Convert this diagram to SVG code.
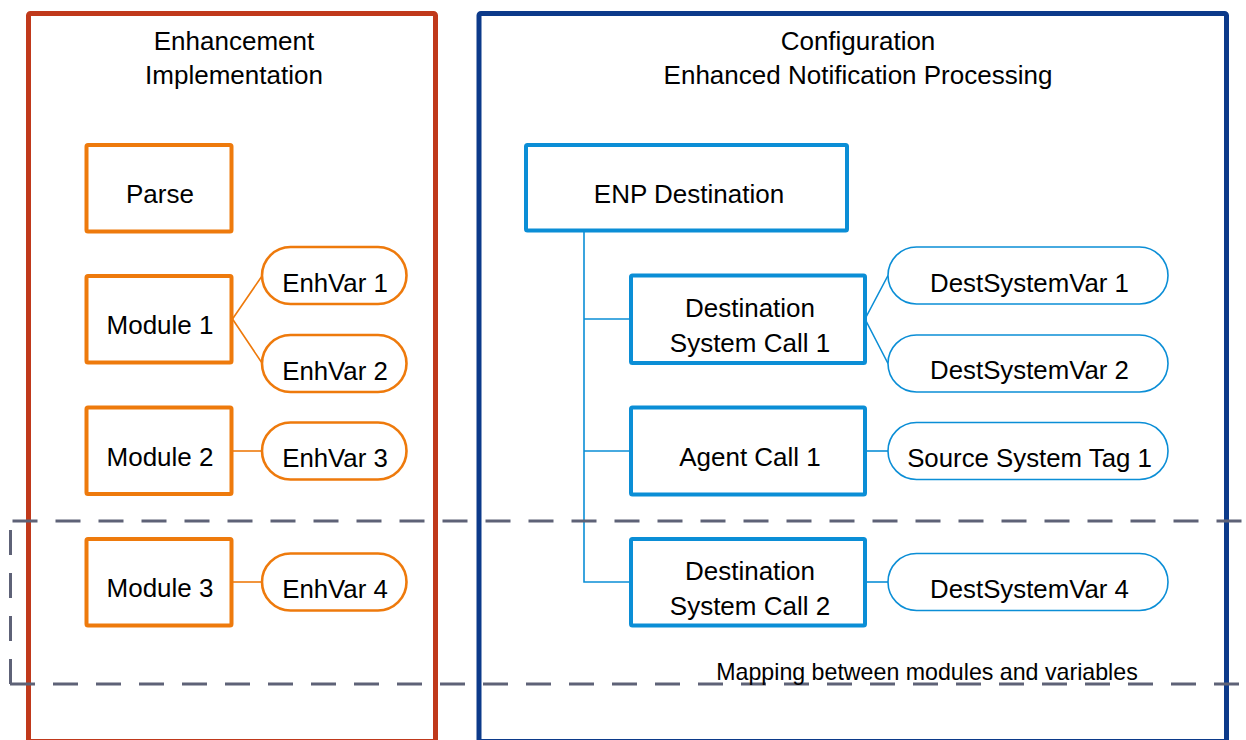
<svg xmlns="http://www.w3.org/2000/svg" width="1246" height="740" viewBox="0 0 1246 740">
<style>
text { font-family: "Liberation Sans", Arial, sans-serif; fill: #000; text-anchor: middle; }
.title { font-size: 26px; }
.box-t { font-size: 26px; }
.pill-t { font-size: 25.8px; }
.note { font-size: 23.2px; }
.obox { fill: #fff; stroke: #EE7A0C; stroke-width: 4; }
.opill { fill: #fff; stroke: #EE7A0C; stroke-width: 2.6; }
.bbox { fill: #fff; stroke: #0B8ED6; stroke-width: 4; }
.bpill { fill: #fff; stroke: #0B8ED6; stroke-width: 1.6; }
.ocon { fill: none; stroke: #EE7A0C; stroke-width: 1.6; }
.bcon { fill: none; stroke: #0B8ED6; stroke-width: 1.6; }
</style>
<rect width="1246" height="740" fill="#fff"/>
<g id="container-enhancement">
  <rect x="28.5" y="13.5" width="407" height="728" rx="2" fill="none" stroke="#C0391B" stroke-width="5"/>
  <text class="title" x="234" y="49.5">Enhancement</text>
  <text class="title" x="234" y="84">Implementation</text>
</g>
<g id="container-configuration">
  <rect x="479" y="13.5" width="747.5" height="728" rx="2" fill="none" stroke="#0C3A8A" stroke-width="5"/>
  <text class="title" x="858" y="49.5">Configuration</text>
  <text class="title" x="858" y="84">Enhanced Notification Processing</text>
</g>
<g id="connectors">
  <path class="ocon" d="M232.5,319 L262,276 M232.5,319 L262,363"/>
  <path class="ocon" d="M232.5,451 H262"/>
  <path class="ocon" d="M232.5,582 H262"/>
  <path class="bcon" d="M584,231 V582 H631 M584,319 H631 M584,451 H631"/>
  <path class="bcon" d="M865,319 L888,275.5 M865,319 L888,363.5"/>
  <path class="bcon" d="M865,451 H888"/>
  <path class="bcon" d="M865,582 H888"/>
</g>
<g id="parse"><rect class="obox" x="86.5" y="145" width="145" height="86.5" rx="1.5"/><text class="box-t" x="160" y="203">Parse</text></g>
<g id="module1"><rect class="obox" x="86.5" y="276" width="145" height="86.5" rx="1.5"/><text class="box-t" x="160" y="334">Module 1</text></g>
<g id="module2"><rect class="obox" x="86.5" y="407.5" width="145" height="86.5" rx="1.5"/><text class="box-t" x="160" y="466">Module 2</text></g>
<g id="module3"><rect class="obox" x="86.5" y="539" width="145" height="86.5" rx="1.5"/><text class="box-t" x="160" y="597">Module 3</text></g>
<g id="enhvar1"><rect class="opill" x="262" y="247" width="144.5" height="57" rx="28.5"/><text class="pill-t" x="335" y="291.5">EnhVar 1</text></g>
<g id="enhvar2"><rect class="opill" x="262" y="335" width="144.5" height="57" rx="28.5"/><text class="pill-t" x="335" y="379.5">EnhVar 2</text></g>
<g id="enhvar3"><rect class="opill" x="262" y="422.5" width="144.5" height="57" rx="28.5"/><text class="pill-t" x="335" y="467">EnhVar 3</text></g>
<g id="enhvar4"><rect class="opill" x="262" y="553.5" width="144.5" height="57" rx="28.5"/><text class="pill-t" x="335" y="598">EnhVar 4</text></g>
<g id="enp-destination"><rect class="bbox" x="526" y="145" width="321" height="85.5" rx="1.5"/><text class="box-t" x="689" y="202.5">ENP Destination</text></g>
<g id="dest-system-call-1"><rect class="bbox" x="631" y="275.5" width="234" height="87.5" rx="1.5"/><text class="box-t" x="750" y="317">Destination</text><text class="box-t" x="750" y="352">System Call 1</text></g>
<g id="agent-call-1"><rect class="bbox" x="631" y="407.5" width="234" height="87" rx="1.5"/><text class="box-t" x="750" y="466">Agent Call 1</text></g>
<g id="dest-system-call-2"><rect class="bbox" x="631" y="539" width="234" height="86.5" rx="1.5"/><text class="box-t" x="750" y="580">Destination</text><text class="box-t" x="750" y="615">System Call 2</text></g>
<g id="destsystemvar1"><rect class="bpill" x="888" y="247" width="280" height="57" rx="28.5"/><text class="pill-t" x="1029.5" y="292">DestSystemVar 1</text></g>
<g id="destsystemvar2"><rect class="bpill" x="888" y="335" width="280" height="57" rx="28.5"/><text class="pill-t" x="1029.5" y="379">DestSystemVar 2</text></g>
<g id="source-system-tag1"><rect class="bpill" x="888" y="422.5" width="280" height="57" rx="28.5"/><text class="pill-t" x="1029.5" y="466.5">Source System Tag 1</text></g>
<g id="destsystemvar4"><rect class="bpill" x="888" y="553.5" width="280" height="57" rx="28.5"/><text class="pill-t" x="1029.5" y="598">DestSystemVar 4</text></g>
<g id="mapping-region">
  <path d="M12.5,521 H1250" fill="none" stroke="#5E6277" stroke-width="3" stroke-dasharray="25 18"/>
  <path d="M10,684 H1250" fill="none" stroke="#5E6277" stroke-width="3" stroke-dasharray="25 18"/>
  <path d="M10.5,684 V521" fill="none" stroke="#5E6277" stroke-width="3" stroke-dasharray="25 18"/>
  <text class="note" x="927" y="680">Mapping between modules and variables</text>
</g>
</svg>
